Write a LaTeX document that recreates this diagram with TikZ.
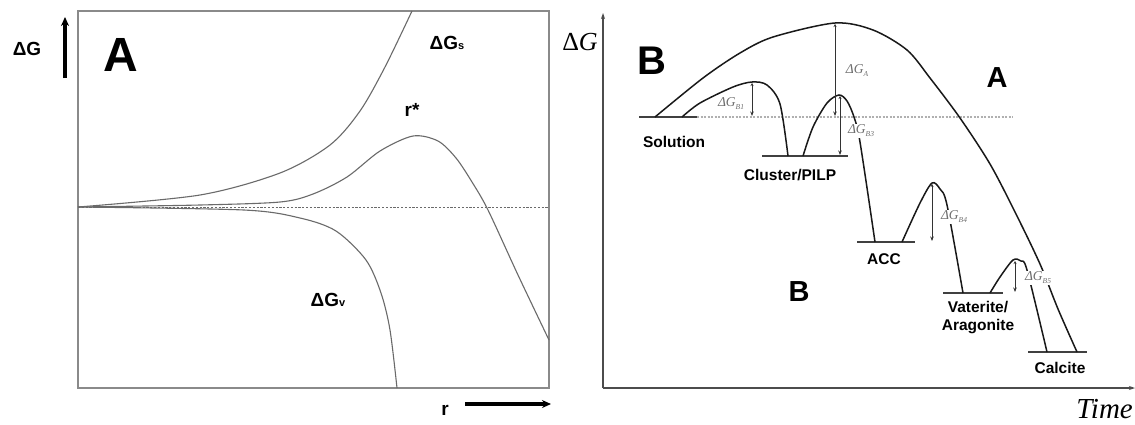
\documentclass[tikz,border=0pt]{standalone}
\usepackage{fontspec}
\setmainfont{Liberation Sans}
\newfontfamily\serifit{Liberation Serif}
\usetikzlibrary{arrows.meta}
\definecolor{boxgray}{HTML}{8A8A8A}
\definecolor{curvegray}{HTML}{6A6A6A}
\definecolor{dotgray}{HTML}{B0B0B0}
\definecolor{lblgray}{HTML}{6E6E6E}
\tikzset{
  boxA/.style={draw=boxgray, line width=1.3pt},
  dashA/.style={draw=curvegray, line width=0.9pt, dash pattern=on 2.2pt off 1.6pt},
  curveA/.style={draw=curvegray, line width=1.1pt},
  thickarrow/.style={draw=black, line width=3.4pt, -{Stealth[length=9pt,width=8pt]}},
  lblA/.style={font=\bfseries\fontsize{19}{19}\selectfont, inner sep=0pt},
  axisB/.style={draw=black!70, line width=1.3pt, -{Stealth[length=6pt,width=4pt]}},
  curveB/.style={draw=black!90, line width=1.5pt},
  levelB/.style={draw=black!75, line width=1.4pt},
  dotB/.style={draw=dotgray, line width=1.2pt, dash pattern=on 2pt off 1.5pt},
  gapB/.style={draw=black!80, line width=1pt, {Stealth[length=3pt,width=3pt]}-{Stealth[length=4.5pt,width=3.5pt]}},
  statelbl/.style={font=\bfseries\fontsize{15.5}{18}\selectfont, inner sep=0pt, align=center},
  dglbl/.style={font=\serifit\itshape\fontsize{13.5}{13.5}\selectfont, text=lblgray, fill=white, inner sep=1pt},
}
\newcommand{\dgsub}[1]{\raisebox{-3pt}{\fontsize{7.5}{7.5}\selectfont #1}}
\begin{document}
\begin{tikzpicture}[x=1pt,y=-1pt]
\useasboundingbox[fill=white] (0,0) rectangle (1135,424);

% ================= Panel A =================
\draw[boxA] (78,11) rectangle (549,388);
\coordinate (dl) at (78,207);
\coordinate (dr) at (549,207);
\draw[dashA] (dl) -- (dr);
% surface term
\draw[curveA] plot[smooth] coordinates {(78,207) (200,195) (280,173) (330,145) (360,111) (385,67) (412,11)};
% total
\draw[curveA] plot[smooth] coordinates {(78,207) (200,205) (280,202) (313,194) (347,177) (380,151) (413,136) (438,141) (456,158) (472,182) (488,210) (518,275) (549,340)};
% volume term
\draw[curveA] plot[smooth] coordinates {(78,207) (244,210) (300,218) (336,231) (366,260) (381,293) (390,330) (397,388)};

\node[lblA] (dGA) at (27,49) {ΔG};
\coordinate (garrowS) at (65,78);
\coordinate (garrowE) at (65,17);
\draw[thickarrow] (garrowS) -- (garrowE);
\node[font=\bfseries\fontsize{48}{48}\selectfont, inner sep=0pt] (bigA) at (121,55) {A};
\node[lblA] (dGs) at (447,43) {ΔG{\fontsize{11}{11}\selectfont s}};
\node[lblA] (rstar) at (412,110) {r*};
\node[lblA] (dGv) at (328,300) {ΔG{\fontsize{11}{11}\selectfont v}};
\node[lblA] (rlbl) at (445,410) {r};
\coordinate (rarrowS) at (465,404);
\coordinate (rarrowE) at (551,404);
\draw[thickarrow] (rarrowS) -- (rarrowE);

% ================= Panel B =================
\coordinate (O) at (603,388);
\coordinate (ytop) at (603,13);
\coordinate (xend) at (1135,388);
\draw[axisB] (O) -- (ytop);
\draw[axisB] (O) -- (xend);
\node[font=\serifit\fontsize{26}{26}\selectfont, inner sep=0pt] (dGB) at (580,42) {Δ\textit{G}};
\node[font=\serifit\itshape\fontsize{29}{29}\selectfont, inner sep=0pt, anchor=east] (time) at (1133,409) {Time};
\node[font=\bfseries\fontsize{40}{40}\selectfont, inner sep=0pt] (bigB) at (652,61) {B};
\node[font=\bfseries\fontsize{29}{29}\selectfont, inner sep=0pt] (pathA) at (997,78) {A};
\node[font=\bfseries\fontsize{29}{29}\selectfont, inner sep=0pt] (pathB) at (799,292) {B};

% levels
\coordinate (solL) at (639,117); \coordinate (solR) at (697,117);
\coordinate (cluL) at (762,156); \coordinate (cluR) at (848,156);
\coordinate (accL) at (857,242); \coordinate (accR) at (915,242);
\coordinate (vatL) at (943,293); \coordinate (vatR) at (1003,293);
\coordinate (calL) at (1028,352); \coordinate (calR) at (1087,352);
\draw[levelB] (solL) -- (solR);
\draw[levelB] (cluL) -- (cluR);
\draw[levelB] (accL) -- (accR);
\draw[levelB] (vatL) -- (vatR);
\draw[levelB] (calL) -- (calR);
\coordinate (dotE) at (1013,117);
\draw[dotB] (solR) -- (dotE);

% pathway A (direct)
\draw[curveB] plot[smooth] coordinates {(655,117) (703,78) (740,53) (773,37) (835,23) (873,30) (907,50) (930,78) (960,118) (990,164) (1015,212) (1040,264) (1058,309) (1077,352)};

% pathway B steps
\draw[curveB] plot[smooth] coordinates {(682,117) (700,103) (733,87) (752,82) (767,85) (780,104) (788,156)};
\draw[curveB] plot[smooth] coordinates {(803,156) (813,127) (827,103) (839,95) (847,101) (854,117) (860,142) (875,242)};
\draw[curveB] plot[smooth] coordinates {(902,242) (920,203) (932,183) (940,189) (947,205) (963,293)};
\draw[curveB] plot[smooth] coordinates {(990,293) (1000,277) (1013,260) (1021,261) (1027,270) (1047,352)};

% barriers
\coordinate (gA1) at (835,24); \coordinate (gA2) at (835,116);
\coordinate (gB1a) at (752,83); \coordinate (gB1b) at (752,116);
\coordinate (gB3a) at (840,96); \coordinate (gB3b) at (840,155);
\coordinate (gB4a) at (932,184); \coordinate (gB4b) at (932,241);
\coordinate (gB5a) at (1015,261); \coordinate (gB5b) at (1015,292);
\draw[gapB] (gA1) -- (gA2);
\draw[gapB] (gB1a) -- (gB1b);
\draw[gapB] (gB3a) -- (gB3b);
\draw[gapB] (gB4a) -- (gB4b);
\draw[gapB] (gB5a) -- (gB5b);

\node[dglbl] (lA) at (857,71) {ΔG\dgsub{A}};
\node[dglbl] (lB1) at (731,104) {ΔG\dgsub{B1}};
\node[dglbl] (lB3) at (861,131) {ΔG\dgsub{B3}};
\node[dglbl] (lB4) at (954,217) {ΔG\dgsub{B4}};
\node[dglbl] (lB5) at (1038,278) {ΔG\dgsub{B5}};

\node[statelbl] (sol) at (674,142) {Solution};
\node[statelbl] (clu) at (790,175) {Cluster/PILP};
\node[statelbl] (acc) at (884,259) {ACC};
\node[statelbl] (vat) at (978,318) {Vaterite/\\Aragonite};
\node[statelbl] (cal) at (1060,368) {Calcite};
\end{tikzpicture}
\end{document}
